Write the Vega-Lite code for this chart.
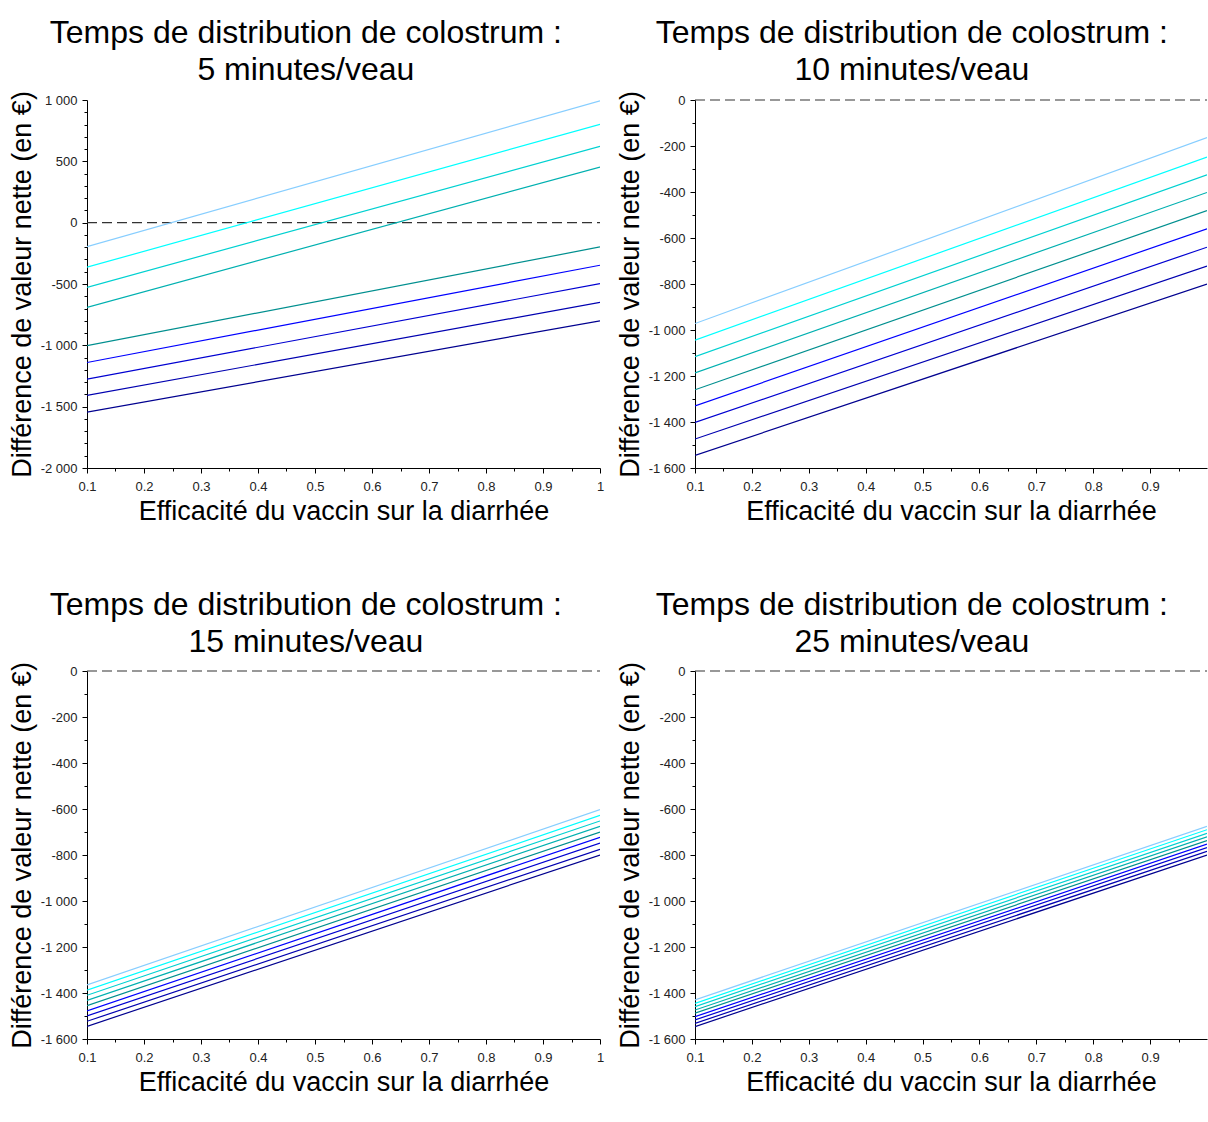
{
  "$schema": "https://vega.github.io/schema/vega-lite/v6.json",
  "background": "white",
  "padding": {"left": 8, "top": 16, "right": 0, "bottom": 0},
  "config": {
    "font": "Liberation Sans",
    "view": {"stroke": null},
    "axis": {
      "domainColor": "#000000", "tickColor": "#000000", "labelColor": "#222222",
      "labelFontSize": 13, "labelFont": "Liberation Sans",
      "titleFont": "Liberation Sans", "titleFontSize": 27, "titleFontWeight": "normal", "titleColor": "#000000",
      "grid": false, "labelPadding": 5, "titlePadding": 4, "domainWidth": 1, "tickWidth": 1,
      "labelOverlap": false, "labelFlush": false, "labelBound": false
    },
    "axisX": {"titlePadding": 5, "labelPadding": 7},
    "title": {"font": "Liberation Sans", "fontSize": 32, "fontWeight": "normal", "color": "#000000", "anchor": "middle", "frame": "bounds", "lineHeight": 37}
  },
  "datasets": {
    "p1": [
      {"s": "1", "x": 0.1, "y": -1545}, {"s": "1", "x": 1, "y": -800},
      {"s": "2", "x": 0.1, "y": -1408}, {"s": "2", "x": 1, "y": -650},
      {"s": "3", "x": 0.1, "y": -1275}, {"s": "3", "x": 1, "y": -497},
      {"s": "4", "x": 0.1, "y": -1140}, {"s": "4", "x": 1, "y": -347},
      {"s": "5", "x": 0.1, "y": -1003}, {"s": "5", "x": 1, "y": -198},
      {"s": "6", "x": 0.1, "y": -690}, {"s": "6", "x": 1, "y": 453},
      {"s": "7", "x": 0.1, "y": -527}, {"s": "7", "x": 1, "y": 622},
      {"s": "8", "x": 0.1, "y": -363}, {"s": "8", "x": 1, "y": 802},
      {"s": "9", "x": 0.1, "y": -195}, {"s": "9", "x": 1, "y": 993}
    ],
    "p2": [
      {"s": "1", "x": 0.1, "y": -1545}, {"s": "1", "x": 1, "y": -800},
      {"s": "2", "x": 0.1, "y": -1474}, {"s": "2", "x": 1, "y": -722},
      {"s": "3", "x": 0.1, "y": -1402}, {"s": "3", "x": 1, "y": -640},
      {"s": "4", "x": 0.1, "y": -1330}, {"s": "4", "x": 1, "y": -560},
      {"s": "5", "x": 0.1, "y": -1260}, {"s": "5", "x": 1, "y": -481},
      {"s": "6", "x": 0.1, "y": -1187}, {"s": "6", "x": 1, "y": -402},
      {"s": "7", "x": 0.1, "y": -1116}, {"s": "7", "x": 1, "y": -325},
      {"s": "8", "x": 0.1, "y": -1044}, {"s": "8", "x": 1, "y": -248},
      {"s": "9", "x": 0.1, "y": -972}, {"s": "9", "x": 1, "y": -163}
    ],
    "p3": [
      {"s": "1", "x": 0.1, "y": -1545}, {"s": "1", "x": 1, "y": -800},
      {"s": "2", "x": 0.1, "y": -1523}, {"s": "2", "x": 1, "y": -775},
      {"s": "3", "x": 0.1, "y": -1500}, {"s": "3", "x": 1, "y": -748},
      {"s": "4", "x": 0.1, "y": -1478}, {"s": "4", "x": 1, "y": -723},
      {"s": "5", "x": 0.1, "y": -1455}, {"s": "5", "x": 1, "y": -700},
      {"s": "6", "x": 0.1, "y": -1432}, {"s": "6", "x": 1, "y": -675},
      {"s": "7", "x": 0.1, "y": -1410}, {"s": "7", "x": 1, "y": -652},
      {"s": "8", "x": 0.1, "y": -1388}, {"s": "8", "x": 1, "y": -628},
      {"s": "9", "x": 0.1, "y": -1365}, {"s": "9", "x": 1, "y": -603}
    ],
    "p4": [
      {"s": "1", "x": 0.1, "y": -1546}, {"s": "1", "x": 1, "y": -800},
      {"s": "2", "x": 0.1, "y": -1532}, {"s": "2", "x": 1, "y": -784},
      {"s": "3", "x": 0.1, "y": -1517}, {"s": "3", "x": 1, "y": -768},
      {"s": "4", "x": 0.1, "y": -1503}, {"s": "4", "x": 1, "y": -753},
      {"s": "5", "x": 0.1, "y": -1488}, {"s": "5", "x": 1, "y": -737},
      {"s": "6", "x": 0.1, "y": -1474}, {"s": "6", "x": 1, "y": -721},
      {"s": "7", "x": 0.1, "y": -1459}, {"s": "7", "x": 1, "y": -706},
      {"s": "8", "x": 0.1, "y": -1445}, {"s": "8", "x": 1, "y": -690},
      {"s": "9", "x": 0.1, "y": -1430}, {"s": "9", "x": 1, "y": -675}
    ]
  },
  "vconcat": [
    {
      "hconcat": [
        {
          "width": 513, "height": 368,
          "title": {"text": ["Temps de distribution de colostrum :", "5 minutes/veau"], "offset": 4},
          "data": {"name": "p1"},
          "resolve": {"axis": {"x": "independent", "y": "independent"}},
          "layer": [
            {
              "data": {"values": [{}]},
              "mark": {"type": "rule", "strokeDash": [10, 5], "color": "#333333", "strokeWidth": 1.2},
              "encoding": {
                "x": {"datum": 0.1, "type": "quantitative", "axis": {"orient": "bottom", "title": null, "labels": false, "domain": false, "tickSize": 3, "values": [0.15,0.25,0.35,0.45,0.55,0.65,0.75,0.85,0.95]}},
                "x2": {"datum": 1},
                "y": {"datum": 0, "type": "quantitative", "axis": {"orient": "left", "title": null, "labels": false, "domain": false, "tickSize": 3, "values": [-1900,-1800,-1700,-1600,-1400,-1300,-1200,-1100,-900,-800,-700,-600,-400,-300,-200,-100,100,200,300,400,600,700,800,900]}}
              }
            },
            {
              "mark": {"type": "line", "strokeWidth": 1.2, "clip": true},
              "encoding": {
                "x": {"field": "x", "type": "quantitative", "scale": {"domain": [0.1, 1], "nice": false, "zero": false},
                  "axis": {"orient": "bottom", "title": "Efficacité du vaccin sur la diarrhée", "tickSize": 5, "format": "~g",
                    "values": [0.1,0.2,0.3,0.4,0.5,0.6,0.7,0.8,0.9,1]}},
                "y": {"field": "y", "type": "quantitative", "scale": {"domain": [-2000, 1000], "nice": false, "zero": false},
                  "axis": {"orient": "left", "title": "Différence de valeur nette (en €)", "tickSize": 5,
                    "values": [-2000,-1500,-1000,-500,0,500,1000],
                    "labelExpr": "replace(replace(format(datum.value, ','), ',', ' '), '−', '-')"}},
                "color": {"field": "s", "type": "nominal", "legend": null,
                  "scale": {"domain": ["1","2","3","4","5","6","7","8","9"], "range": ["#00008F","#0000B0","#0000D1","#0000FF","#008F8F","#00B0B0","#00D1D1","#00FFFF","#87CEFF"]}}
              }
            }
          ]
        },
        {
          "width": 512, "height": 368,
          "title": {"text": ["Temps de distribution de colostrum :", "10 minutes/veau"], "offset": 4},
          "data": {"name": "p2"},
          "resolve": {"axis": {"x": "independent", "y": "independent"}},
          "layer": [
            {
              "data": {"values": [{}]},
              "mark": {"type": "rule", "strokeDash": [10, 5], "color": "#333333", "strokeWidth": 1.2},
              "encoding": {
                "x": {"datum": 0.1, "type": "quantitative", "axis": {"orient": "bottom", "title": null, "labels": false, "domain": false, "tickSize": 3, "values": [0.15,0.25,0.35,0.45,0.55,0.65,0.75,0.85,0.95]}},
                "x2": {"datum": 1},
                "y": {"datum": 0, "type": "quantitative", "axis": {"orient": "left", "title": null, "labels": false, "domain": false, "tickSize": 3, "values": [-1500,-1300,-1100,-900,-700,-500,-300,-100]}}
              }
            },
            {
              "mark": {"type": "line", "strokeWidth": 1.2, "clip": true},
              "encoding": {
                "x": {"field": "x", "type": "quantitative", "scale": {"domain": [0.1, 1], "nice": false, "zero": false},
                  "axis": {"orient": "bottom", "title": "Efficacité du vaccin sur la diarrhée", "tickSize": 5, "format": "~g",
                    "values": [0.1,0.2,0.3,0.4,0.5,0.6,0.7,0.8,0.9]}},
                "y": {"field": "y", "type": "quantitative", "scale": {"domain": [-1600, 0], "nice": false, "zero": false},
                  "axis": {"orient": "left", "title": "Différence de valeur nette (en €)", "tickSize": 5,
                    "values": [-1600,-1400,-1200,-1000,-800,-600,-400,-200,0],
                    "labelExpr": "replace(replace(format(datum.value, ','), ',', ' '), '−', '-')"}},
                "color": {"field": "s", "type": "nominal", "legend": null,
                  "scale": {"domain": ["1","2","3","4","5","6","7","8","9"], "range": ["#00008F","#0000B0","#0000D1","#0000FF","#008F8F","#00B0B0","#00D1D1","#00FFFF","#87CEFF"]}}
              }
            }
          ]
        }
      ],
      "spacing": 12
    },
    {
      "hconcat": [
        {
          "width": 513, "height": 368,
          "title": {"text": ["Temps de distribution de colostrum :", "15 minutes/veau"], "offset": 3},
          "data": {"name": "p3"},
          "resolve": {"axis": {"x": "independent", "y": "independent"}},
          "layer": [
            {
              "data": {"values": [{}]},
              "mark": {"type": "rule", "strokeDash": [10, 5], "color": "#333333", "strokeWidth": 1.2},
              "encoding": {
                "x": {"datum": 0.1, "type": "quantitative", "axis": {"orient": "bottom", "title": null, "labels": false, "domain": false, "tickSize": 3, "values": [0.15,0.25,0.35,0.45,0.55,0.65,0.75,0.85,0.95]}},
                "x2": {"datum": 1},
                "y": {"datum": 0, "type": "quantitative", "axis": {"orient": "left", "title": null, "labels": false, "domain": false, "tickSize": 3, "values": [-1500,-1300,-1100,-900,-700,-500,-300,-100]}}
              }
            },
            {
              "mark": {"type": "line", "strokeWidth": 1.2, "clip": true},
              "encoding": {
                "x": {"field": "x", "type": "quantitative", "scale": {"domain": [0.1, 1], "nice": false, "zero": false},
                  "axis": {"orient": "bottom", "title": "Efficacité du vaccin sur la diarrhée", "tickSize": 5, "format": "~g",
                    "values": [0.1,0.2,0.3,0.4,0.5,0.6,0.7,0.8,0.9,1]}},
                "y": {"field": "y", "type": "quantitative", "scale": {"domain": [-1600, 0], "nice": false, "zero": false},
                  "axis": {"orient": "left", "title": "Différence de valeur nette (en €)", "tickSize": 5,
                    "values": [-1600,-1400,-1200,-1000,-800,-600,-400,-200,0],
                    "labelExpr": "replace(replace(format(datum.value, ','), ',', ' '), '−', '-')"}},
                "color": {"field": "s", "type": "nominal", "legend": null,
                  "scale": {"domain": ["1","2","3","4","5","6","7","8","9"], "range": ["#00008F","#0000B0","#0000D1","#0000FF","#008F8F","#00B0B0","#00D1D1","#00FFFF","#87CEFF"]}}
              }
            }
          ]
        },
        {
          "width": 512, "height": 368,
          "title": {"text": ["Temps de distribution de colostrum :", "25 minutes/veau"], "offset": 3},
          "data": {"name": "p4"},
          "resolve": {"axis": {"x": "independent", "y": "independent"}},
          "layer": [
            {
              "data": {"values": [{}]},
              "mark": {"type": "rule", "strokeDash": [10, 5], "color": "#333333", "strokeWidth": 1.2},
              "encoding": {
                "x": {"datum": 0.1, "type": "quantitative", "axis": {"orient": "bottom", "title": null, "labels": false, "domain": false, "tickSize": 3, "values": [0.15,0.25,0.35,0.45,0.55,0.65,0.75,0.85,0.95]}},
                "x2": {"datum": 1},
                "y": {"datum": 0, "type": "quantitative", "axis": {"orient": "left", "title": null, "labels": false, "domain": false, "tickSize": 3, "values": [-1500,-1300,-1100,-900,-700,-500,-300,-100]}}
              }
            },
            {
              "mark": {"type": "line", "strokeWidth": 1.2, "clip": true},
              "encoding": {
                "x": {"field": "x", "type": "quantitative", "scale": {"domain": [0.1, 1], "nice": false, "zero": false},
                  "axis": {"orient": "bottom", "title": "Efficacité du vaccin sur la diarrhée", "tickSize": 5, "format": "~g",
                    "values": [0.1,0.2,0.3,0.4,0.5,0.6,0.7,0.8,0.9]}},
                "y": {"field": "y", "type": "quantitative", "scale": {"domain": [-1600, 0], "nice": false, "zero": false},
                  "axis": {"orient": "left", "title": "Différence de valeur nette (en €)", "tickSize": 5,
                    "values": [-1600,-1400,-1200,-1000,-800,-600,-400,-200,0],
                    "labelExpr": "replace(replace(format(datum.value, ','), ',', ' '), '−', '-')"}},
                "color": {"field": "s", "type": "nominal", "legend": null,
                  "scale": {"domain": ["1","2","3","4","5","6","7","8","9"], "range": ["#00008F","#0000B0","#0000D1","#0000FF","#008F8F","#00B0B0","#00D1D1","#00FFFF","#87CEFF"]}}
              }
            }
          ]
        }
      ],
      "spacing": 12
    }
  ],
  "spacing": 64
}
